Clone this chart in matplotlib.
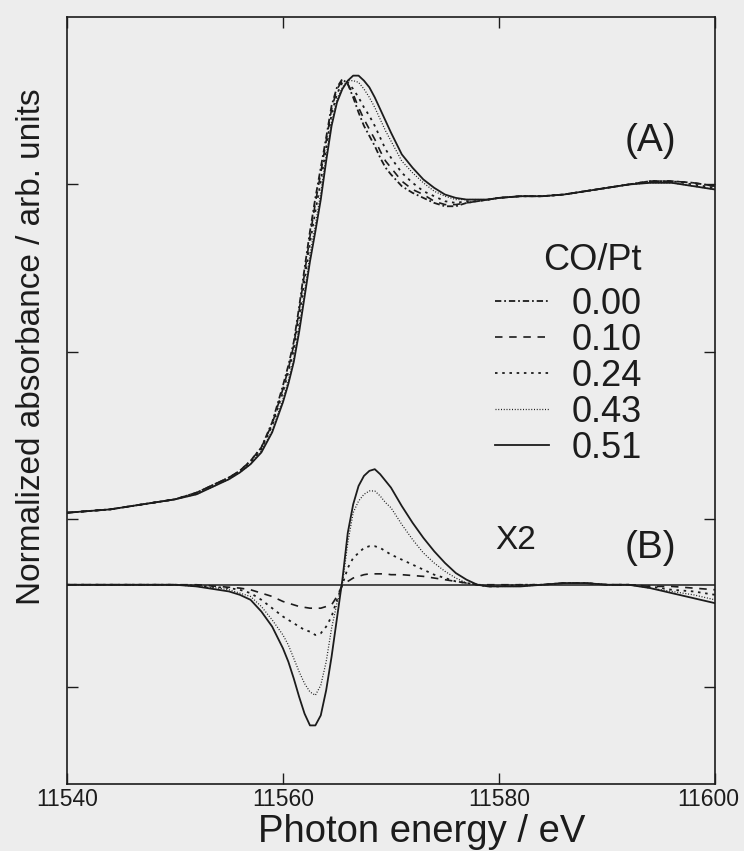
import matplotlib
matplotlib.use('Agg')
import matplotlib.pyplot as plt
from matplotlib.lines import Line2D
from matplotlib.transforms import ScaledTranslation

plt.rcParams['font.family'] = ['Liberation Sans', 'DejaVu Sans']

# photon energy grid (eV)
energy = [11540, 11542, 11544, 11546, 11548, 11550, 11552, 11553, 11554, 11555, 11556, 11557, 11558, 11559,
          11560, 11560.5, 11561, 11561.5, 11562, 11562.5, 11563, 11563.5, 11564, 11564.5, 11565, 11565.5,
          11566, 11566.5, 11567, 11567.5, 11568, 11568.5, 11569, 11569.5, 11570,
          11571, 11572, 11573, 11574, 11575, 11576, 11577, 11578, 11579, 11580,
          11582, 11584, 11586, 11588, 11590, 11592, 11594, 11596, 11598, 11600]

co_pt = ['0.00', '0.10', '0.24', '0.43', '0.51']

# (A) normalized XANES, one list per CO/Pt
xanes_000 = [1.04, 1.05, 1.06, 1.08, 1.10, 1.12, 1.16, 1.19, 1.22, 1.25, 1.29, 1.35, 1.43, 1.58,
             1.80, 1.92, 2.06, 2.27, 2.50, 2.72, 2.92, 3.10, 3.28, 3.47, 3.58, 3.63, 3.60, 3.52, 3.43, 3.35,
             3.29, 3.23, 3.16, 3.10, 3.06,
             2.99, 2.95, 2.92, 2.89, 2.87, 2.87, 2.89, 2.90, 2.91, 2.92,
             2.93, 2.93, 2.94, 2.96, 2.98, 3.00, 3.02, 3.02, 3.01, 2.99]
xanes_010 = [1.04, 1.05, 1.06, 1.08, 1.10, 1.12, 1.16, 1.19, 1.22, 1.25, 1.29, 1.35, 1.43, 1.57,
             1.78, 1.90, 2.04, 2.25, 2.47, 2.69, 2.89, 3.07, 3.26, 3.45, 3.57, 3.62, 3.60, 3.54, 3.46, 3.39,
             3.33, 3.27, 3.20, 3.14, 3.10,
             3.02, 2.97, 2.94, 2.90, 2.88, 2.88, 2.89, 2.90, 2.91, 2.92,
             2.93, 2.93, 2.94, 2.96, 2.98, 3.00, 3.02, 3.02, 3.01, 2.99]
xanes_024 = [1.04, 1.05, 1.06, 1.08, 1.10, 1.12, 1.16, 1.19, 1.22, 1.25, 1.29, 1.34, 1.42, 1.56,
             1.76, 1.88, 2.01, 2.21, 2.43, 2.65, 2.84, 3.02, 3.22, 3.42, 3.54, 3.61, 3.61, 3.57, 3.52, 3.46,
             3.41, 3.35, 3.28, 3.21, 3.16,
             3.07, 3.01, 2.96, 2.93, 2.90, 2.89, 2.90, 2.90, 2.91, 2.92,
             2.93, 2.93, 2.94, 2.96, 2.98, 3.00, 3.02, 3.02, 3.00, 2.98]
xanes_043 = [1.04, 1.05, 1.06, 1.08, 1.10, 1.12, 1.15, 1.18, 1.21, 1.24, 1.28, 1.33, 1.41, 1.53,
             1.72, 1.83, 1.96, 2.15, 2.36, 2.58, 2.76, 2.95, 3.17, 3.37, 3.51, 3.58, 3.62, 3.62, 3.61, 3.57,
             3.52, 3.46, 3.39, 3.32, 3.26,
             3.14, 3.07, 3.01, 2.96, 2.93, 2.91, 2.91, 2.91, 2.91, 2.92,
             2.93, 2.93, 2.94, 2.96, 2.98, 3.00, 3.01, 3.01, 2.99, 2.97]
xanes_051 = [1.04, 1.05, 1.06, 1.08, 1.10, 1.12, 1.15, 1.18, 1.21, 1.24, 1.28, 1.33, 1.40, 1.52,
             1.70, 1.81, 1.94, 2.12, 2.33, 2.54, 2.72, 2.91, 3.14, 3.35, 3.49, 3.57, 3.62, 3.65, 3.65, 3.62,
             3.58, 3.52, 3.45, 3.38, 3.31,
             3.18, 3.10, 3.03, 2.98, 2.94, 2.92, 2.91, 2.91, 2.91, 2.92,
             2.93, 2.93, 2.94, 2.96, 2.98, 3.00, 3.01, 3.01, 2.99, 2.97]

# (B) difference spectra (x2) against CO/Pt = 0.00
diff_010 = [0, 0, 0, 0, 0, 0, 0, -0.005, -0.01, -0.015, -0.02, -0.03, -0.05, -0.07,
            -0.10, -0.11, -0.12, -0.13, -0.135, -0.14, -0.14, -0.14, -0.13, -0.12, -0.07, 0.0,
            0.02, 0.04, 0.05, 0.06, 0.065, 0.065, 0.065, 0.065, 0.06,
            0.06, 0.055, 0.05, 0.04, 0.03, 0.02, 0.01, 0.0, 0.0, 0.0,
            0.0, 0.0, 0.01, 0.01, 0.0, 0.0, -0.01, -0.01, -0.02, -0.03]
diff_024 = [0, 0, 0, 0, 0, 0, -0.005, -0.01, -0.015, -0.02, -0.03, -0.05, -0.09, -0.14,
            -0.19, -0.21, -0.23, -0.25, -0.27, -0.28, -0.30, -0.29, -0.25, -0.19, -0.09, 0.0,
            0.10, 0.16, 0.19, 0.22, 0.23, 0.23, 0.22, 0.20, 0.18,
            0.15, 0.12, 0.09, 0.06, 0.04, 0.02, 0.01, 0.0, -0.01, -0.01,
            0.0, 0.0, 0.01, 0.01, 0.0, 0.0, -0.01, -0.03, -0.04, -0.06]
diff_043 = [0, 0, 0, 0, 0, 0, -0.01, -0.015, -0.02, -0.03, -0.05, -0.07, -0.13, -0.21,
            -0.30, -0.36, -0.44, -0.52, -0.59, -0.64, -0.66, -0.60, -0.46, -0.26, -0.11, 0.0,
            0.25, 0.43, 0.50, 0.54, 0.56, 0.56, 0.53, 0.49, 0.46,
            0.36, 0.27, 0.19, 0.13, 0.08, 0.04, 0.01, 0.0, -0.01, -0.01,
            -0.01, 0.0, 0.01, 0.01, 0.0, 0.0, -0.02, -0.04, -0.06, -0.09]
diff_051 = [0, 0, 0, 0, 0, 0, -0.01, -0.02, -0.03, -0.04, -0.06, -0.09, -0.16, -0.25,
            -0.38, -0.46, -0.56, -0.67, -0.77, -0.84, -0.84, -0.78, -0.63, -0.43, -0.20, 0.03,
            0.31, 0.48, 0.59, 0.65, 0.68, 0.69, 0.66, 0.62, 0.58,
            0.47, 0.37, 0.28, 0.20, 0.13, 0.07, 0.03, 0.0, -0.01, -0.01,
            -0.01, 0.0, 0.01, 0.01, 0.0, 0.0, -0.02, -0.05, -0.08, -0.11]

xanes = [xanes_000, xanes_010, xanes_024, xanes_043, xanes_051]
diffs = [None, diff_010, diff_024, diff_043, diff_051]

B_OFFSET = 0.61
ink = '#1c1c1c'
paper = '#ededed'
styles = [dict(ls=(0, (3.5, 1.6, 1.0, 1.6)), lw=1.3),
          dict(ls=(0, (4.5, 4.0)), lw=1.2),
          dict(ls=(0, (1.4, 2.6)), lw=1.3),
          dict(ls=(0, (0.8, 1.4)), lw=0.9),
          dict(ls='-', lw=1.3)]

fig = plt.figure(figsize=(7.44, 8.51), dpi=100, facecolor=paper)
ax = fig.add_axes([0.090, 0.0787, 0.871, 0.9013], facecolor=paper)

for i in range(len(co_pt)):
    ax.plot(energy, xanes[i], color=ink, label=co_pt[i], **styles[i])
    if diffs[i] is not None:
        ax.plot(energy, [B_OFFSET + v for v in diffs[i]], color=ink, **styles[i])
ax.axhline(B_OFFSET, color=ink, lw=1.1)

ax.set_xlim(11540, 11600)
ax.set_ylim(-0.58, 4.0)
ax.set_xticks([11540, 11560, 11580, 11600])
ax.set_yticks([0, 1, 2, 3])
ax.set_yticklabels([])
ax.tick_params(direction='in', length=8, width=1.0, top=True, right=True,
               labelsize=16.5, pad=3, colors=ink)
# pull the last number in so it stays on the page
xlabels = ax.get_xticklabels()
xlabels[-1].set_transform(xlabels[-1].get_transform()
                          + ScaledTranslation(-5 / 72, 0, fig.dpi_scale_trans))
for s in ax.spines.values():
    s.set_color(ink)
    s.set_linewidth(1.2)

ax.set_xlabel('Photon energy / eV', fontsize=27.5, color=ink, labelpad=0)
ax.xaxis.set_label_coords(0.548, -0.0756)
ax.xaxis.label.set_va('baseline')
ax.set_ylabel('Normalized absorbance / arb. units', fontsize=24, color=ink)
ax.yaxis.label.set_va('center')
ax.yaxis.set_label_coords(-0.054, 0.57)

ax.text(0.901, 0.838, '(A)', transform=ax.transAxes, fontsize=28, color=ink,
        ha='center', va='center')
ax.text(0.900, 0.308, '(B)', transform=ax.transAxes, fontsize=28, color=ink,
        ha='center', va='center')
ax.text(0.693, 0.317, 'X2', transform=ax.transAxes, fontsize=24, color=ink,
        ha='center', va='center')

handles = [Line2D([], [], color=ink, **styles[i]) for i in range(len(co_pt))]
leg = ax.legend(handles, co_pt, title='CO/Pt', loc='upper left',
                bbox_to_anchor=(0.660, 0.705), frameon=False, fontsize=26,
                title_fontsize=26, handlelength=1.5, handletextpad=0.62,
                labelspacing=0.03, borderpad=0, borderaxespad=0,
                alignment='right')
leg._legend_box.sep = 6
for t in leg.get_texts():
    t.set_color(ink)
leg.get_title().set_color(ink)

fig.savefig('out.png', dpi=100, facecolor=paper)
